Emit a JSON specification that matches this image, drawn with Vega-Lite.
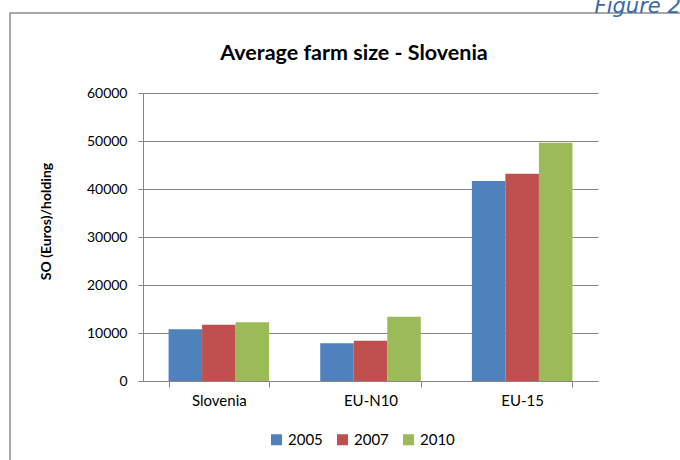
{
  "$schema": "https://vega.github.io/schema/vega-lite/v6.json",
  "autosize": {"type": "none"},
  "padding": {"left": 10, "top": 13, "right": 670, "bottom": 447},
  "background": "white",
  "bounds": "flush",
  "title": {"text": "Figure 2", "anchor": "end", "frame": "bounds", "font": "DejaVu Sans", "fontStyle": "italic", "fontWeight": "normal", "fontSize": 21, "color": "#3b67ad", "offset": -5, "dx": -20},
  "config": {"view": {"stroke": "#8c8c8c", "strokeWidth": 1.5}, "font": "Lato"},
  "vconcat": [
    {
      "width": 690,
      "height": 460,
      "title": {"text": "Average farm size - Slovenia", "anchor": "middle", "font": "Lato", "fontSize": 21.5, "fontWeight": "bold", "color": "#000000", "dx": -1, "offset": -51},
      "data": {"values": [
        {"region": "Slovenia", "year": "2005", "value": 10770},
        {"region": "Slovenia", "year": "2007", "value": 11730},
        {"region": "Slovenia", "year": "2010", "value": 12230},
        {"region": "EU-N10", "year": "2005", "value": 7850},
        {"region": "EU-N10", "year": "2007", "value": 8400},
        {"region": "EU-N10", "year": "2010", "value": 13400},
        {"region": "EU-15", "year": "2005", "value": 41670},
        {"region": "EU-15", "year": "2007", "value": 43190},
        {"region": "EU-15", "year": "2010", "value": 49650}
      ]},
      "mark": {"type": "bar"},
      "encoding": {
        "x": {"field": "region", "type": "nominal", "sort": ["Slovenia", "EU-N10", "EU-15"],
          "scale": {"range": [133, 588], "paddingInner": 0.337, "paddingOuter": 0.1685},
          "axis": {"title": null, "offset": -92, "labelAngle": 0, "tickBand": "extent", "tickSize": 6, "domainColor": "#868686", "tickColor": "#868686", "labelFont": "Lato", "labelFontSize": 15, "labelColor": "#000000", "labelPadding": 6}},
        "xOffset": {"field": "year", "type": "nominal", "scale": {"paddingInner": 0, "paddingOuter": 0}},
        "y": {"field": "value", "type": "quantitative", "scale": {"domain": [0, 60000], "nice": false, "range": [368, 80]},
          "axis": {"offset": -133, "values": [0, 10000, 20000, 30000, 40000, 50000, 60000], "format": "d", "grid": true, "gridColor": "#868686", "gridWidth": 1, "domainColor": "#868686", "tickColor": "#868686", "tickSize": 5, "labelFont": "Lato", "labelFontSize": 14, "labelColor": "#000000", "labelPadding": 11, "title": "SO (Euros)/holding", "titleFont": "Lato", "titleFontSize": 14, "titleFontWeight": "bold", "titleColor": "#000000", "titlePadding": 33, "titleY": 208}},
        "color": {"field": "year", "type": "nominal",
          "scale": {"domain": ["2005", "2007", "2010"], "range": ["#4F81BD", "#C0504D", "#9BBB59"]},
          "legend": {"title": null, "orient": "none", "direction": "horizontal", "legendX": 259, "legendY": 419, "symbolType": "square", "symbolSize": 121, "symbolStrokeWidth": 0, "labelFont": "Lato", "labelFontSize": 15, "labelColor": "#000000", "labelOffset": 4, "columnPadding": 12, "padding": 0}}
      }
    }
  ]
}
